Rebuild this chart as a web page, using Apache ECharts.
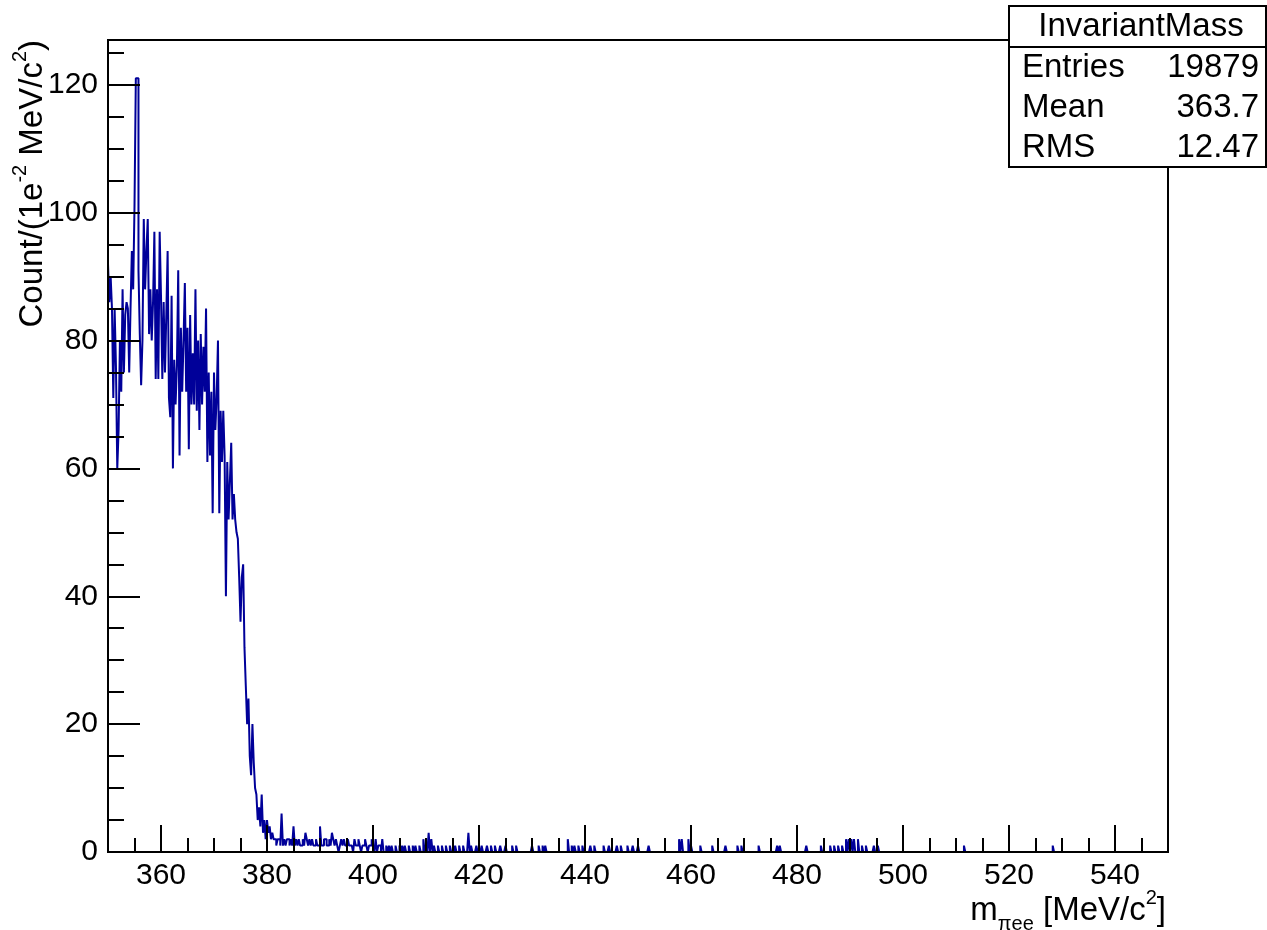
<!DOCTYPE html>
<html>
<head>
<meta charset="utf-8">
<title>InvariantMass</title>
<script src="https://cdn.jsdelivr.net/npm/echarts@6.0.0/dist/echarts.min.js"></script>
<style>
  html, body { margin: 0; padding: 0; background: #fff; }
  #chart { width: 1267px; height: 930px; }
</style>
</head>
<body>
<div id="chart"></div>
<script>
// histogram binning (MeV/c^2)
const histMin = 350
const histMax = 550
const binWidth = 0.25

// bin contents, 4 bins per MeV, 10 MeV per array
const counts350 = [
  92, 86, 90, 85, 71, 85, 76, 60, 66, 80, 72, 88, 75, 84, 86, 85, 75, 85, 94, 88,
  101, 121, 121, 91, 81, 73, 80, 99, 88, 94, 99, 81, 88, 80, 86, 97, 74, 88, 74, 97
]
const counts360 = [
  87, 74, 86, 75, 84, 94, 71, 68, 87, 60, 77, 70, 76, 91, 62, 82, 72, 80, 89, 72,
  82, 63, 84, 70, 78, 70, 88, 69, 80, 66, 81, 70, 79, 72, 85, 61, 75, 62, 72, 53
]
const counts370 = [
  75, 66, 71, 80, 53, 69, 61, 69, 62, 40, 61, 52, 58, 64, 52, 56, 52, 50, 49, 43,
  36, 43, 45, 32, 26, 20, 24, 15, 12, 20, 14, 10, 9, 5, 7, 4, 9, 3, 5, 2
]
const counts380 = [
  5, 3, 4, 2, 3, 2, 2, 1, 2, 2, 1, 6, 1, 2, 1, 2, 2, 1, 2, 1,
  4, 1, 2, 1, 2, 1, 1, 2, 1, 3, 2, 1, 2, 1, 2, 1, 1, 2, 1, 1
]
const counts390 = [
  4, 1, 1, 2, 2, 1, 1, 2, 1, 3, 2, 1, 2, 1, 0, 1, 2, 1, 2, 1,
  1, 2, 1, 1, 1, 0, 2, 1, 1, 2, 1, 0, 1, 1, 2, 1, 0, 1, 1, 2
]
// sparse tail above 400: [mass, count]
const tailHits = [
  [400.0, 1], [400.5, 2], [401.0, 1], [401.25, 1], [401.75, 2], [402.5, 1], [403.0, 1],
  [403.5, 1], [404.25, 1], [405.0, 1], [405.5, 1], [406.0, 1], [406.75, 1], [407.5, 1],
  [408.0, 1], [408.75, 1], [409.5, 2], [410.0, 1], [410.5, 3], [411.0, 2], [411.5, 1],
  [412.25, 1], [413.0, 1], [413.75, 1], [414.5, 1], [415.5, 1], [416.25, 1], [417.0, 1],
  [418.0, 3], [418.5, 1], [419.5, 1], [420.5, 1], [421.5, 1], [422.25, 1], [423.0, 1],
  [424.0, 1], [425.0, 1], [426.25, 1], [427.0, 1], [430.0, 1], [431.25, 1], [432.0, 1],
  [432.5, 1], [436.75, 2], [437.5, 1], [438.0, 1], [438.75, 1], [439.5, 1], [441.0, 1],
  [441.75, 1], [443.5, 1], [444.5, 1], [446.0, 1], [446.75, 1], [448.0, 1], [449.0, 1],
  [450.0, 1], [452.0, 1], [457.75, 2], [458.25, 2], [459.5, 2], [460.0, 1], [461.75, 1],
  [464.0, 1], [466.5, 1], [468.75, 1], [469.5, 1], [472.75, 1], [476.25, 1], [476.75, 1],
  [481.75, 1], [484.5, 1], [486.25, 1], [487.0, 1], [487.75, 1], [488.5, 1], [489.25, 2],
  [489.75, 2], [490.25, 2], [490.75, 2], [491.5, 2], [492.25, 1], [493.0, 1], [494.5, 1],
  [495.25, 1], [511.5, 1], [528.25, 1]
]

// ticks
const xMajor = [360, 380, 400, 420, 440, 460, 480, 500, 520, 540]
const xMinor = [355, 365, 370, 375, 385, 390, 395, 405, 410, 415, 425, 430, 435, 445, 450,
  455, 465, 470, 475, 485, 490, 495, 505, 510, 515, 525, 530, 535, 545]
const yMajor = [0, 20, 40, 60, 80, 100, 120]
const yMinor = [5, 10, 15, 25, 30, 35, 45, 50, 55, 65, 70, 75, 85, 90, 95, 105, 110, 115, 125]
const yMax = 127

// stats box
const statName = 'InvariantMass'
const statRows = [['Entries', '19879'], ['Mean', '363.7'], ['RMS', '12.47']]

const FONT = '"Liberation Sans", Arial, Helvetica, sans-serif'
const histColor = '#000099'

function buildBins () {
  const n = Math.round((histMax - histMin) / binWidth)
  const bins = new Array(n).fill(0)
  const dense = [].concat(counts350, counts360, counts370, counts380, counts390)
  dense.forEach((c, i) => { bins[i] = c })
  tailHits.forEach(([m, c]) => { bins[Math.round((m - histMin) / binWidth)] = c })
  const pts = bins.map((c, i) => [histMin + i * binWidth, c])
  pts.push([histMax, 0])
  return pts
}

const chart = echarts.init(document.getElementById('chart'), null, { renderer: 'canvas' })

const tickLine = { color: '#000', width: 2 }
const plotLeft = 108, plotRight = 1168, plotTop = 40, plotBottom = 852
const labelFont = { color: '#000', fontSize: 30, fontFamily: FONT }
const titleRich = {
  m: { fontSize: 33, fontFamily: FONT, lineHeight: 46, fill: '#000' },
  sub: { fontSize: 20, fontFamily: FONT, verticalAlign: 'bottom', lineHeight: 22, fill: '#000' },
  sup: { fontSize: 20, fontFamily: FONT, verticalAlign: 'top', lineHeight: 24, fill: '#000' }
}

const option = {
  animation: false,
  backgroundColor: '#fff',
  grid: {
    left: plotLeft,
    right: 1267 - plotRight,
    top: plotTop,
    bottom: 930 - plotBottom,
    show: true,
    borderColor: '#000',
    borderWidth: 2,
    backgroundColor: 'transparent'
  },
  xAxis: [
    {
      type: 'value',
      min: histMin,
      max: histMax,
      position: 'bottom',
      z: 5,
      axisLine: { show: true, onZero: false, lineStyle: tickLine },
      axisTick: { show: true, inside: true, length: 27, lineStyle: tickLine, customValues: xMajor },
      axisLabel: Object.assign({ show: true, customValues: xMajor, margin: 9 }, labelFont),
      splitLine: { show: false }
    },
    {
      type: 'value',
      min: histMin,
      max: histMax,
      position: 'bottom',
      z: 5,
      axisLine: { show: false },
      axisTick: { show: true, inside: true, length: 14, lineStyle: tickLine, customValues: xMinor },
      axisLabel: { show: false },
      splitLine: { show: false }
    }
  ],
  yAxis: [
    {
      type: 'value',
      min: 0,
      max: yMax,
      position: 'left',
      z: 5,
      axisLine: { show: true, onZero: false, lineStyle: tickLine },
      axisTick: { show: true, inside: true, length: 32, lineStyle: tickLine, customValues: yMajor },
      axisLabel: Object.assign({ show: true, customValues: yMajor, margin: 10 }, labelFont),
      splitLine: { show: false }
    },
    {
      type: 'value',
      min: 0,
      max: yMax,
      position: 'left',
      z: 5,
      axisLine: { show: false },
      axisTick: { show: true, inside: true, length: 16, lineStyle: tickLine, customValues: yMinor },
      axisLabel: { show: false },
      splitLine: { show: false }
    }
  ],
  series: [
    {
      name: statName,
      type: 'line',
      xAxisIndex: 0,
      yAxisIndex: 0,
      step: 'end',
      showSymbol: false,
      symbol: 'none',
      sampling: null,
      clip: true,
      lineStyle: { color: histColor, width: 2 },
      data: buildBins()
    }
  ],
  graphic: [
    // y title
    {
      type: 'text',
      x: 33,
      y: 40,
      rotation: Math.PI / 2,
      z: 10,
      style: {
        text: '{m|Count/(1e}{sup|-2}{m| MeV/c}{sup|2}{m|)}',
        align: 'right',
        verticalAlign: 'middle',
        fill: '#000',
        rich: titleRich
      }
    },
    // x title
    {
      type: 'text',
      x: plotRight - 2,
      y: 911,
      z: 10,
      style: {
        text: '{m|m}{sub|πee}{m| [MeV/c}{sup|2}{m|]}',
        align: 'right',
        verticalAlign: 'middle',
        fill: '#000',
        rich: titleRich
      }
    },
    // stats box
    {
      type: 'group',
      z: 20,
      children: [
        {
          type: 'rect',
          shape: { x: 1009, y: 6, width: 257, height: 161 },
          style: { fill: '#fff', stroke: '#000', lineWidth: 2 }
        },
        {
          type: 'line',
          shape: { x1: 1009, y1: 47, x2: 1266, y2: 47 },
          style: { stroke: '#000', lineWidth: 2 }
        },
        {
          type: 'text',
          x: 1141,
          y: 27,
          style: { text: statName, fontSize: 33, fontFamily: FONT, fill: '#000', align: 'center', verticalAlign: 'middle' }
        }
      ].concat(statRows.flatMap((r, i) => [
        {
          type: 'text',
          x: 1022,
          y: 68 + i * 40,
          style: { text: r[0], fontSize: 33, fontFamily: FONT, fill: '#000', align: 'left', verticalAlign: 'middle' }
        },
        {
          type: 'text',
          x: 1259,
          y: 68 + i * 40,
          style: { text: r[1], fontSize: 33, fontFamily: FONT, fill: '#000', align: 'right', verticalAlign: 'middle' }
        }
      ]))
    }
  ]
}

chart.setOption(option)
</script>
</body>
</html>
